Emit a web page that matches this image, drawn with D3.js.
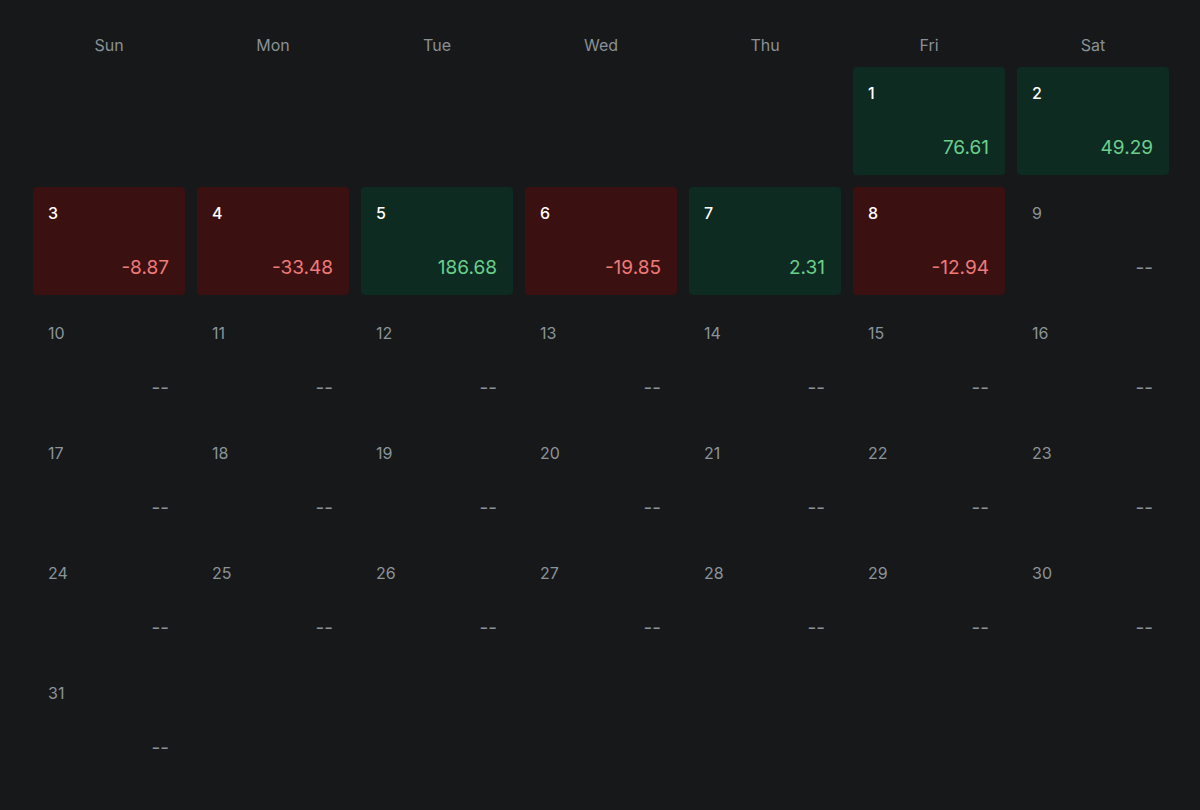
<!DOCTYPE html>
<html>
<head>
<meta charset="utf-8">
<script src="https://cdn.jsdelivr.net/npm/d3@7"></script>
<style>
  html, body { margin: 0; padding: 0; background: #161819; }
  svg { display: block; font-family: Inter, "Noto Sans", sans-serif; }
</style>
</head>
<body>
<div id="cal"></div>
<script>
// Weekday labels and daily values (null = no data).
const weekdays = ["Sun", "Mon", "Tue", "Wed", "Thu", "Fri", "Sat"];
const days = d3.range(1, 32);
const values = [76.61, 49.29, -8.87, -33.48, 186.68, -19.85, 2.31, -12.94,
  null, null, null, null, null, null, null, null, null, null, null, null,
  null, null, null, null, null, null, null, null, null, null, null];
const firstWeekday = 5; // month starts on Friday

const width = 1200, height = 810;
const margin = { top: 67, left: 33 };
const gap = 12;

const svg = d3.select("#cal")
  .append("svg")
  .attr("width", width)
  .attr("height", height);

// Columns: 164px pitch, 152px cells.
const x = d3.scaleBand()
  .domain(weekdays)
  .range([margin.left, margin.left + 164 * 7 - gap])
  .paddingInner(gap / 164)
  .paddingOuter(0);

// Rows: 120px pitch, 108px cells.
const nRows = 6;
const y = d3.scaleBand()
  .domain(d3.range(nRows))
  .range([margin.top, margin.top + 120 * nRows - gap])
  .paddingInner(gap / 120)
  .paddingOuter(0);

// Weekday header.
svg.selectAll("text.wd")
  .data(weekdays)
  .join("text")
  .attr("class", "wd")
  .attr("x", d => x(d) + x.bandwidth() / 2)
  .attr("y", 51)
  .attr("text-anchor", "middle")
  .attr("fill", "#8a9196")
  .attr("font-size", 16)
  .text(d => d);

const cells = days.map((d, i) => {
  const pos = firstWeekday + i;
  return { day: d, value: values[i], col: weekdays[pos % 7], row: Math.floor(pos / 7) };
});

const g = svg.selectAll("g.cell")
  .data(cells)
  .join("g")
  .attr("class", "cell")
  .attr("transform", d => `translate(${x(d.col)}, ${y(d.row)})`);

g.filter(d => d.value != null)
  .append("rect")
  .attr("width", x.bandwidth())
  .attr("height", y.bandwidth())
  .attr("rx", 4)
  .attr("fill", d => d.value >= 0 ? "#0d2b21" : "#3b1011");

g.append("text")
  .attr("x", 15)
  .attr("y", 32)
  .attr("font-size", 16)
  .attr("font-weight", d => d.value != null ? 500 : 400)
  .attr("fill", d => d.value != null ? "#ffffff" : "#8a9499")
  .text(d => d.day);

g.append("text")
  .attr("x", x.bandwidth() - 16)
  .attr("y", 87)
  .attr("text-anchor", "end")
  .attr("font-size", 19)
  .attr("fill", d => d.value == null ? "#8a9499" : (d.value >= 0 ? "#6ccf8c" : "#ef7b78"))
  .text(d => d.value == null ? "--" : d.value.toFixed(2));
</script>
</body>
</html>
